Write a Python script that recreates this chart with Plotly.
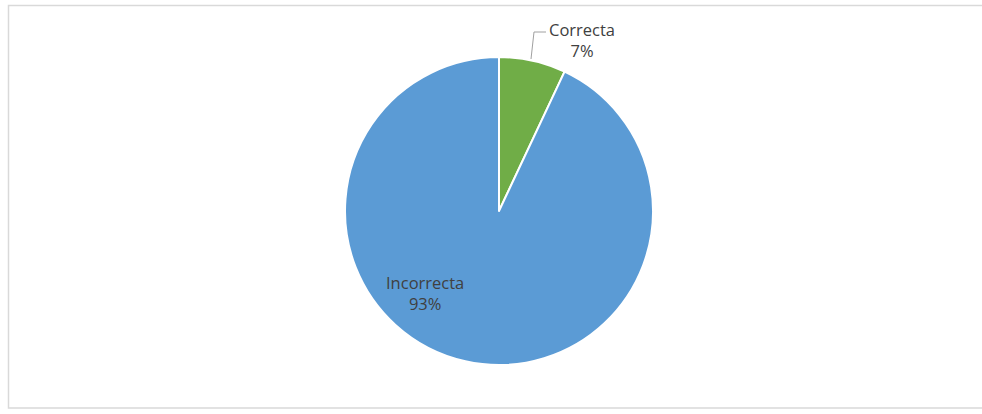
import plotly.graph_objects as go

# Answer breakdown
labels = ["Correcta", "Incorrecta"]
values = [7, 93]
colors = ["#70AD47", "#5B9BD5"]

W, H = 982, 414
cx, cy, r = 499, 211, 154  # pie centre and radius in pixels


def px(x):
    return x / W


def py(y):
    return 1 - y / H


total = sum(values)
pct = [round(v * 100 / total) for v in values]

fig = go.Figure(
    go.Pie(
        labels=labels,
        values=values,
        sort=False,
        direction="clockwise",
        rotation=0,
        marker=dict(colors=colors, line=dict(color="white", width=2)),
        textinfo="none",
        hoverinfo="label+percent",
        showlegend=False,
        domain=dict(x=[px(cx - r), px(cx + r)], y=[py(cy + r), py(cy - r)]),
    )
)

font = dict(family="Open Sans, Liberation Sans, sans-serif", size=16.5, color="#404040")

# Outside label for the small slice, with a leader line
fig.add_annotation(
    x=px(582), y=py(40), xref="paper", yref="paper",
    xanchor="center", yanchor="middle",
    text=f"{labels[0]}<br>{pct[0]}%", showarrow=False, font=font,
    align="center",
)
fig.add_shape(
    type="path", xref="paper", yref="paper",
    path=f"M {px(531)},{py(59)} L {px(534)},{py(32)} L {px(546)},{py(32)}",
    line=dict(color="#A0A0A0", width=1),
)

# Inside label for the large slice
fig.add_annotation(
    x=px(425), y=py(293), xref="paper", yref="paper",
    xanchor="center", yanchor="middle",
    text=f"{labels[1]}<br>{pct[1]}%", showarrow=False, font=font,
    align="center",
)

# Chart-area frame
fig.add_shape(
    type="rect", xref="paper", yref="paper",
    x0=px(8.5), x1=px(1000), y0=py(408), y1=py(5.5),
    line=dict(color="#D9D9D9", width=1.5),
)

fig.update_layout(
    width=W, height=H,
    margin=dict(l=0, r=0, t=0, b=0),
    paper_bgcolor="white",
    plot_bgcolor="white",
)

fig.write_html("out.html")
